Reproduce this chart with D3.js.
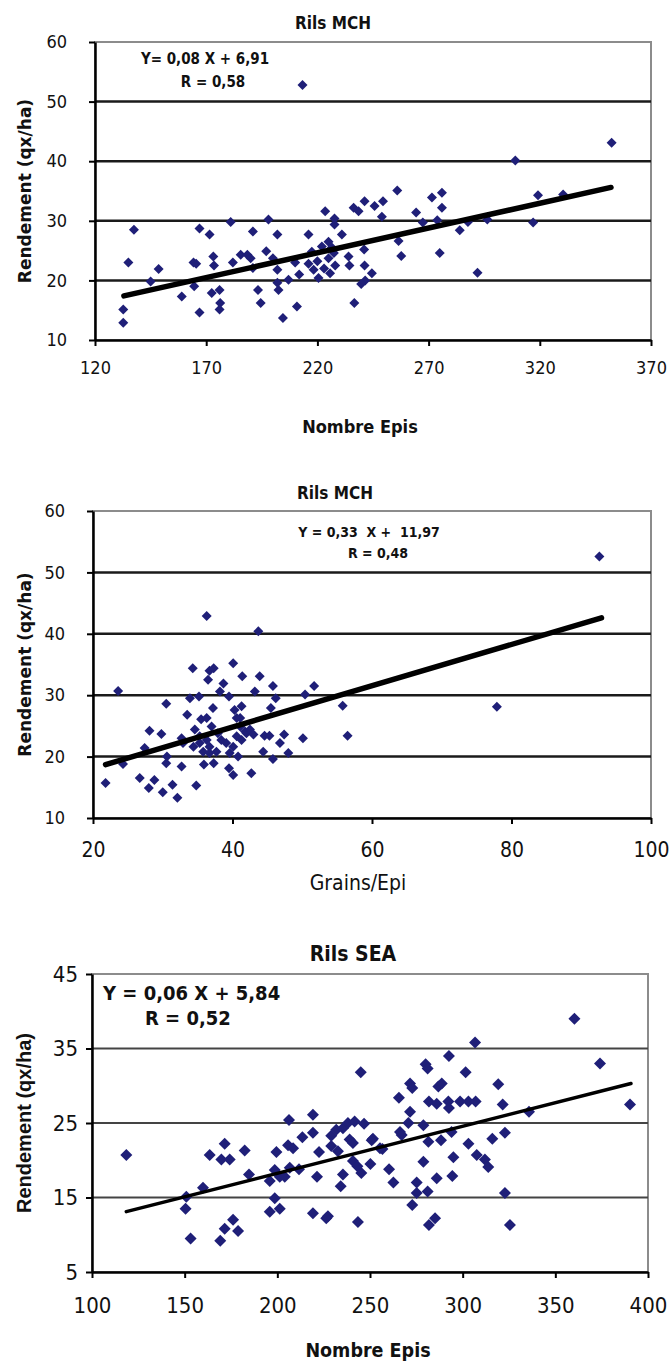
<!DOCTYPE html>
<html>
<head>
<meta charset="utf-8">
<script src="https://cdn.jsdelivr.net/npm/d3@7"></script>
<style>
  body { margin: 0; background: #fff; }
  svg { display: block; }
</style>
</head>
<body>
<svg id="chart"></svg>
<script>
// Rils MCH : rendement vs nombre d'epis  [epis, rdt]
const mchEpisPoints = [
  [132.7,15.1],[132.7,12.9],[135,23.0],[137.5,28.5],[145,19.8],[148.6,21.9],[159,17.3],[164.3,23.0],
  [165.5,22.8],[164.6,19.0],[167,28.7],[167,14.6],[171.5,27.7],[173.2,24.0],[173.5,22.5],[172.5,17.9],
  [176,18.4],[176.3,16.2],[176,15.1],[181,29.8],[182,23.0],[185.5,24.3],[188.5,24.3],[190,23.7],
  [191,28.2],[191,22.1],[193.3,18.4],[194.5,16.2],[197,24.9],[198,30.2],[200,23.7],[202,27.7],
  [202,21.8],[202,19.6],[202.5,18.4],[204.5,13.7],[207,20.1],[210.8,15.6],[210,23.0],[211.8,21.0],
  [216,27.7],[216,22.8],[218.3,21.8],[220.5,20.4],[223.5,31.6],[222,25.7],[225,26.5],[225,23.7],
  [225.7,21.2],[227.7,30.4],[227.7,29.4],[227.4,24.6],[228,22.5],[231,27.7],[234,24.0],[234.4,22.5],
  [236.3,32.2],[238.5,31.6],[236.6,16.2],[241.2,33.3],[241,25.2],[241.2,22.5],[241.5,20.0],[244.5,21.2],
  [245.7,32.5],[249.5,33.3],[249,30.7],[239.7,19.4],[217.5,24.8],[220,23.2],[223,22.0],[226.5,25.5],
  [255.9,35.1],[257.7,24.1],[256.5,26.6],[264.4,31.4],[267.4,29.7],[271.5,33.9],[276,34.7],[276,32.2],
  [273.9,30.1],[275,24.6],[284,28.4],[287.7,29.8],[292,21.3],[296.4,30.2],[309,40.1],[317,29.7],
  [319.2,34.3],[330.5,34.4],[352.3,43.1],[213.3,52.8]
];
const mchEpisLine = [[133, 17.4], [352, 35.6]];
const mchEpisTicksX = [120, 170, 220, 270, 320, 370];
const mchTicksY = [10, 20, 30, 40, 50, 60];

// Rils MCH : rendement vs grains/epi  [grains, rdt]
const mchGrainsPoints = [
  [21.8,15.7],[23.6,30.7],[24.3,18.8],[26.7,16.5],[27.4,21.4],[28.1,24.2],[28.0,14.9],[28.8,16.2],
  [29.8,23.7],[30.0,14.2],[30.5,28.6],[30.5,18.9],[31.4,15.4],[32.1,13.3],[32.7,18.4],[32.9,22.2],
  [33.5,26.8],[33.9,29.5],[34.3,34.4],[34.8,15.3],[34.6,24.4],[35.2,29.8],[35.5,26.1],[35.9,18.7],
  [36.3,42.9],[36.5,32.5],[36.7,34.0],[37.3,34.4],[37.2,27.9],[37.3,18.9],[36.3,22.7],[37.0,24.9],
  [37.9,23.8],[38.7,31.9],[38.2,30.6],[39.5,29.8],[40.1,35.2],[39.5,18.1],[40.1,17.0],[40.3,27.6],
  [40.8,20.0],[41.1,24.9],[41.4,33.1],[41.3,28.2],[42.0,23.8],[42.7,17.3],[43.2,30.6],[43.7,40.4],
  [43.9,33.1],[44.4,20.8],[44.6,23.4],[45.3,23.4],[45.5,27.9],[45.8,31.5],[45.8,19.6],[46.2,29.5],
  [46.8,22.2],[47.4,23.6],[48.0,20.6],[50.1,23.0],[50.4,30.1],[51.7,31.5],[55.8,28.3],[56.5,23.4],
  [34.4,21.6],[35.3,22.2],[35.8,20.8],[36.7,21.6],[37.7,20.8],[38.4,22.7],[39.1,22.2],[40.1,21.6],
  [40.6,23.3],[41.3,22.7],[41.8,24.1],[42.5,24.4],[43.0,23.6],[41.1,26.3],[40.6,26.3],[36.3,26.3],
  [35.3,23.3],[32.7,23.0],[36.7,20.6],[39.6,20.6],[30.6,20.0],[77.9,28.1],[92.6,52.6]
];
const mchGrainsLine = [[21.8, 18.7], [92.9, 42.6]];
const mchGrainsTicksX = [20, 40, 60, 80, 100];

// Rils SEA : rendement vs nombre d'epis  [epis, rdt]
const seaEpisPoints = [
  [118.5,20.7],[150.9,15.1],[150.5,13.5],[153.2,9.5],[159.9,16.3],[163.5,20.7],[169.8,20.1],[171.6,22.2],
  [174.3,20.1],[169.2,9.2],[171.6,10.8],[176.1,12.0],[178.8,10.5],[182.4,21.3],[184.7,18.1],[195.9,13.1],
  [195.9,17.2],[198.6,18.7],[198.6,14.9],[199.5,21.1],[201.3,13.5],[201.3,17.8],[204,17.8],[206.3,25.4],
  [205.8,22.0],[208.5,21.6],[206.7,19.0],[211.7,18.8],[213.5,23.1],[219.2,26.1],[219.2,23.7],[219.2,12.9],
  [221.4,17.8],[222.5,21.1],[227.3,12.5],[226.4,12.2],[229.1,23.3],[229.1,21.9],[231.8,24.1],[232.7,21.2],
  [234.2,16.5],[235.4,18.1],[235.4,24.3],[239,22.8],[240.8,22.3],[238.1,25.0],[241.7,25.2],[240.8,19.9],
  [243.2,19.2],[245.3,18.3],[243.5,11.7],[245,31.8],[246.8,24.9],[250.2,19.5],[251.6,22.9],[256.7,21.5],
  [250.9,22.7],[255.4,21.6],[260.3,18.8],
  [262.6,17.0],[265.6,28.4],[266.2,23.8],[267.1,23.4],[270.7,25.0],[271.6,26.5],[271.6,30.3],[272.8,29.7],
  [272.8,14.0],[275.2,17.0],[275.2,15.6],[278.8,24.7],[278.8,19.8],[280.0,32.9],[281.1,32.3],[281.5,22.5],
  [281.8,27.9],[281.1,15.8],[281.8,11.3],[285.1,12.2],[286,27.6],[286,17.6],[286.9,29.9],[288.7,30.3],
  [288.3,22.7],[292.6,34.0],[292.3,27.9],[292.6,27.0],[294,23.8],[295,20.4],[294.4,17.9],[298.6,27.9],
  [301.6,31.8],[303.1,27.9],[303.1,22.2],[306.7,35.8],[307,27.9],[307.6,20.7],[312,20.1],[313.8,19.1],
  [316,22.9],[319.2,30.2],[321.6,27.5],[322.8,23.7],[322.8,15.6],[325.5,11.3],[335.8,26.5],[360.3,39.0],
  [374.1,33.0],[390.3,27.5]
];
const seaEpisLine = [[118.5, 13.1], [390.8, 30.3]];
const seaTicksX = [100, 150, 200, 250, 300, 350, 400];
const seaTicksY = [5, 15, 25, 35, 45];

const W = 669, H = 1362;
const svg = d3.select('#chart').attr('width', W).attr('height', H);
svg.append('rect').attr('width', W).attr('height', H).attr('fill', '#fff');

const navy = '#1f1f78';
const diamond = r => `M0,${-r}L${r},0L0,${r}L${-r},0Z`;

function drawChart(c) {
  const g = svg.append('g');
  const x = d3.scaleLinear().domain(c.xDomain).range([c.box.left, c.box.right]);
  const y = d3.scaleLinear().domain(c.yDomain).range([c.box.bottom, c.box.top]);

  // plot frame (grey top / right)
  g.append('rect')
    .attr('x', c.box.left).attr('y', c.box.top)
    .attr('width', c.box.right - c.box.left).attr('height', c.box.bottom - c.box.top)
    .attr('fill', 'none').attr('stroke', '#8c8c8c').attr('stroke-width', 2);

  // horizontal gridlines
  g.selectAll('.grid')
    .data(c.yTicks.slice(1, -1)).join('line')
    .attr('x1', c.box.left).attr('x2', c.box.right)
    .attr('y1', d => y(d)).attr('y2', d => y(d))
    .attr('stroke', c.gridColor).attr('stroke-width', c.gridWidth);

  const ax = g.append('g')
    .attr('transform', `translate(0,${c.box.bottom})`)
    .call(d3.axisBottom(x).tickValues(c.xTicks).tickSize(6).tickSizeOuter(0).tickPadding(c.xPad));
  const ay = g.append('g')
    .attr('transform', `translate(${c.box.left},0)`)
    .call(d3.axisLeft(y).tickValues(c.yTicks).tickSize(6).tickSizeOuter(0).tickPadding(c.yPad));

  [ax, ay].forEach(a => {
    a.select('.domain').attr('stroke', '#000').attr('stroke-width', 2.5);
    a.selectAll('.tick line').attr('stroke', '#000').attr('stroke-width', 2);
    a.selectAll('.tick text')
      .attr('fill', '#111')
      .style('font-family', c.tickFont);
  });
  ax.selectAll('.tick text').style('font-size', c.xTickSize + 'px');
  ay.selectAll('.tick text').style('font-size', c.yTickSize + 'px');

  // points
  g.selectAll('.pt')
    .data(c.points).join('path')
    .attr('d', diamond(c.r))
    .attr('transform', d => `translate(${x(d[0])},${y(d[1])})`)
    .attr('fill', navy);

  // regression line
  g.append('path')
    .datum(c.line)
    .attr('d', d3.line().x(d => x(d[0])).y(d => y(d[1])))
    .attr('stroke', '#000').attr('stroke-width', c.lineWidth)
    .attr('stroke-linecap', 'round').attr('fill', 'none');

  // titles
  g.append('text')
    .attr('x', c.title.x).attr('y', c.title.y)
    .attr('text-anchor', 'middle')
    .style('font-family', c.title.font).style('font-size', c.title.size + 'px')
    .style('font-weight', 'bold').attr('fill', '#111')
    .text(c.title.text);

  g.append('text')
    .attr('x', c.xTitle.x).attr('y', c.xTitle.y)
    .attr('text-anchor', 'middle')
    .style('font-family', c.xTitle.font).style('font-size', c.xTitle.size + 'px')
    .style('font-weight', c.xTitle.weight).attr('fill', '#111')
    .text(c.xTitle.text);

  g.append('text')
    .attr('transform', `translate(${c.yTitle.x},${(c.box.top + c.box.bottom) / 2}) rotate(-90)`)
    .attr('text-anchor', 'middle')
    .style('font-family', c.yTitle.font).style('font-size', c.yTitle.size + 'px')
    .style('font-weight', 'bold').attr('fill', '#111')
    .text('Rendement (qx/ha)');

  c.eq.forEach(e => {
    g.append('text')
      .attr('x', e.x).attr('y', e.y)
      .attr('text-anchor', e.anchor)
      .style('font-family', e.font).style('font-size', e.size + 'px')
      .style('font-weight', e.weight).attr('fill', '#111')
      .attr('xml:space', 'preserve')
      .text(e.text);
  });
}

const narrow = '"Liberation Sans Narrow", "DejaVu Sans Condensed", Arial, sans-serif';
const sans = '"Liberation Sans", Arial, sans-serif';

drawChart({
  box: { left: 95, right: 651, top: 42, bottom: 340 },
  xDomain: [120, 370], yDomain: [10, 60],
  xTicks: mchEpisTicksX, yTicks: mchTicksY,
  points: mchEpisPoints, line: mchEpisLine,
  r: 5, lineWidth: 5.5, gridColor: '#1a1a1a', gridWidth: 2.5,
  tickFont: narrow, xTickSize: 18, yTickSize: 18, xPad: 15, yPad: 22,
  title: { text: 'Rils MCH', x: 333, y: 29, size: 17, font: narrow },
  xTitle: { text: 'Nombre Epis', x: 360, y: 433, size: 18, font: narrow, weight: 'bold' },
  yTitle: { x: 31, size: 17, font: '"DejaVu Sans", sans-serif' },
  eq: [
    { text: 'Y= 0,08 X + 6,91', x: 205, y: 64, anchor: 'middle', size: 15, font: narrow, weight: 'bold' },
    { text: 'R = 0,58', x: 213, y: 87, anchor: 'middle', size: 15, font: narrow, weight: 'bold' }
  ]
});

drawChart({
  box: { left: 93, right: 651, top: 511, bottom: 818 },
  xDomain: [20, 100], yDomain: [10, 60],
  xTicks: mchGrainsTicksX, yTicks: mchTicksY,
  points: mchGrainsPoints, line: mchGrainsLine,
  r: 5, lineWidth: 5.5, gridColor: '#1a1a1a', gridWidth: 2.5,
  tickFont: narrow, xTickSize: 21, yTickSize: 18, xPad: 18, yPad: 22,
  title: { text: 'Rils MCH', x: 335, y: 499, size: 17, font: narrow },
  xTitle: { text: 'Grains/Epi', x: 358, y: 890, size: 21, font: narrow, weight: 'normal' },
  yTitle: { x: 31, size: 17, font: '"DejaVu Sans", sans-serif' },
  eq: [
    { text: 'Y = 0,33  X +  11,97', x: 369, y: 537, anchor: 'middle', size: 14, font: narrow, weight: 'bold' },
    { text: 'R = 0,48', x: 378, y: 558, anchor: 'middle', size: 14, font: narrow, weight: 'bold' }
  ]
});

drawChart({
  box: { left: 92, right: 648, top: 974, bottom: 1272 },
  xDomain: [100, 400], yDomain: [5, 45],
  xTicks: seaTicksX, yTicks: seaTicksY,
  points: seaEpisPoints, line: seaEpisLine,
  r: 6, lineWidth: 3.5, gridColor: '#444', gridWidth: 1.8,
  tickFont: narrow, xTickSize: 22, yTickSize: 22, xPad: 19, yPad: 8,
  title: { text: 'Rils SEA', x: 353, y: 961, size: 21, font: narrow },
  xTitle: { text: 'Nombre Epis', x: 368, y: 1357, size: 19.5, font: narrow, weight: 'bold' },
  yTitle: { x: 31, size: 20, font: sans },
  eq: [
    { text: 'Y = 0,06 X + 5,84', x: 103, y: 1000, anchor: 'start', size: 20, font: narrow, weight: 'bold' },
    { text: 'R = 0,52', x: 145, y: 1025, anchor: 'start', size: 20, font: narrow, weight: 'bold' }
  ]
});
</script>
</body>
</html>
